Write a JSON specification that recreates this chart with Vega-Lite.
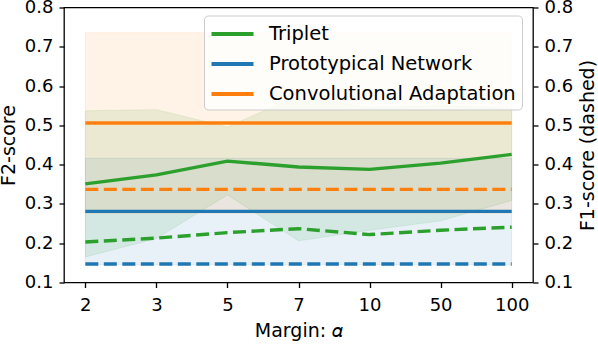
{
  "$schema": "https://vega.github.io/schema/vega-lite/v6.json",
  "width": 469,
  "height": 275,
  "autosize": {"type": "none"},
  "padding": {"left": 64, "top": 7.5, "right": 65, "bottom": 63.5},
  "background": "white",
  "data": {
    "values": [
      {"margin": 2, "model": "Triplet", "f2": 0.351, "f2lo": 0.165, "f2hi": 0.537, "f1": 0.203},
      {"margin": 3, "model": "Triplet", "f2": 0.374, "f2lo": 0.212, "f2hi": 0.540, "f1": 0.213},
      {"margin": 5, "model": "Triplet", "f2": 0.409, "f2lo": 0.323, "f2hi": 0.496, "f1": 0.227},
      {"margin": 7, "model": "Triplet", "f2": 0.394, "f2lo": 0.206, "f2hi": 0.575, "f1": 0.237},
      {"margin": 10, "model": "Triplet", "f2": 0.388, "f2lo": 0.233, "f2hi": 0.545, "f1": 0.222},
      {"margin": 50, "model": "Triplet", "f2": 0.404, "f2lo": 0.257, "f2hi": 0.551, "f1": 0.233},
      {"margin": 100, "model": "Triplet", "f2": 0.426, "f2lo": 0.309, "f2hi": 0.543, "f1": 0.241},
      {"margin": 2, "model": "Prototypical Network", "f2": 0.281, "f2lo": 0.145, "f2hi": 0.416, "f1": 0.147},
      {"margin": 3, "model": "Prototypical Network", "f2": 0.281, "f2lo": 0.145, "f2hi": 0.416, "f1": 0.147},
      {"margin": 5, "model": "Prototypical Network", "f2": 0.281, "f2lo": 0.145, "f2hi": 0.416, "f1": 0.147},
      {"margin": 7, "model": "Prototypical Network", "f2": 0.281, "f2lo": 0.145, "f2hi": 0.416, "f1": 0.147},
      {"margin": 10, "model": "Prototypical Network", "f2": 0.281, "f2lo": 0.145, "f2hi": 0.416, "f1": 0.147},
      {"margin": 50, "model": "Prototypical Network", "f2": 0.281, "f2lo": 0.145, "f2hi": 0.416, "f1": 0.147},
      {"margin": 100, "model": "Prototypical Network", "f2": 0.281, "f2lo": 0.145, "f2hi": 0.416, "f1": 0.147},
      {"margin": 2, "model": "Convolutional Adaptation", "f2": 0.506, "f2lo": 0.276, "f2hi": 0.736, "f1": 0.337},
      {"margin": 3, "model": "Convolutional Adaptation", "f2": 0.506, "f2lo": 0.276, "f2hi": 0.736, "f1": 0.337},
      {"margin": 5, "model": "Convolutional Adaptation", "f2": 0.506, "f2lo": 0.276, "f2hi": 0.736, "f1": 0.337},
      {"margin": 7, "model": "Convolutional Adaptation", "f2": 0.506, "f2lo": 0.276, "f2hi": 0.736, "f1": 0.337},
      {"margin": 10, "model": "Convolutional Adaptation", "f2": 0.506, "f2lo": 0.276, "f2hi": 0.736, "f1": 0.337},
      {"margin": 50, "model": "Convolutional Adaptation", "f2": 0.506, "f2lo": 0.276, "f2hi": 0.736, "f1": 0.337},
      {"margin": 100, "model": "Convolutional Adaptation", "f2": 0.506, "f2lo": 0.276, "f2hi": 0.736, "f1": 0.337}
    ]
  },
  "encoding": {
    "x": {
      "field": "margin",
      "type": "ordinal",
      "scale": {"type": "point", "padding": 0.3},
      "axis": {"title": "Margin: 𝛼", "labelAngle": 0, "labelPadding": 9, "titlePadding": 7}
    }
  },
  "layer": [
    {
      "mark": {"type": "area", "fillOpacity": 0.1, "strokeOpacity": 0.1, "strokeWidth": 1},
      "encoding": {
        "y": {"field": "f2lo", "type": "quantitative", "scale": {"domain": [0.1, 0.8], "nice": false, "zero": false}, "axis": null},
        "y2": {"field": "f2hi"},
        "color": {"field": "model", "type": "nominal", "scale": {"domain": ["Triplet", "Prototypical Network", "Convolutional Adaptation"], "range": ["#2ca02c", "#1f77b4", "#ff7f0e"]}, "legend": null},
        "stroke": {"field": "model", "type": "nominal", "scale": {"domain": ["Triplet", "Prototypical Network", "Convolutional Adaptation"], "range": ["#2ca02c", "#1f77b4", "#ff7f0e"]}, "legend": null}
      }
    },
    {
      "mark": {"type": "line", "strokeWidth": 3.4, "strokeDash": [13, 5.5]},
      "encoding": {
        "y": {"field": "f1", "type": "quantitative", "scale": {"domain": [0.1, 0.8], "nice": false, "zero": false},
          "axis": {"orient": "right", "title": "F1-score (dashed)", "values": [0.1, 0.2, 0.3, 0.4, 0.5, 0.6, 0.7, 0.8], "format": ".1f", "titleAngle": 270, "titleBaseline": "top", "labelPadding": 6, "titlePadding": 6}},
        "color": {"field": "model", "type": "nominal", "scale": {"domain": ["Triplet", "Prototypical Network", "Convolutional Adaptation"], "range": ["#2ca02c", "#1f77b4", "#ff7f0e"]}, "legend": null}
      }
    },
    {
      "mark": {"type": "line", "strokeWidth": 3.4},
      "encoding": {
        "y": {"field": "f2", "type": "quantitative", "scale": {"domain": [0.1, 0.8], "nice": false, "zero": false},
          "axis": {"orient": "left", "title": "F2-score", "values": [0.1, 0.2, 0.3, 0.4, 0.5, 0.6, 0.7, 0.8], "format": ".1f", "labelPadding": 6, "titlePadding": 6}},
        "color": {"field": "model", "type": "nominal", "scale": {"domain": ["Triplet", "Prototypical Network", "Convolutional Adaptation"], "range": ["#2ca02c", "#1f77b4", "#ff7f0e"]},
          "legend": {"title": null, "orient": "none", "legendX": 140, "legendY": 8, "padding": 6, "fillColor": "rgba(255,255,255,0.8)", "strokeColor": "#cccccc", "cornerRadius": 4, "symbolType": "M-2,0H2", "symbolSize": 441, "symbolStrokeWidth": 3.8, "symbolOffset": 10, "labelFontSize": 19.5, "labelOffset": 24, "labelLimit": 400, "rowPadding": 8, "labelColor": "black", "labelFont": "DejaVu Sans"}}
      }
    }
  ],
  "resolve": {"scale": {"y": "independent"}, "legend": {"color": "independent"}},
  "config": {
    "font": "DejaVu Sans",
    "view": {"stroke": "black", "strokeWidth": 1.3},
    "axis": {"domain": false, "grid": false, "ticks": true, "tickColor": "black", "tickWidth": 1.3, "tickSize": 5, "labelColor": "black", "labelFontSize": 18, "titleFontSize": 19, "titleFontWeight": "normal", "titleColor": "black", "labelFont": "DejaVu Sans", "titleFont": "DejaVu Sans"}
  }
}
